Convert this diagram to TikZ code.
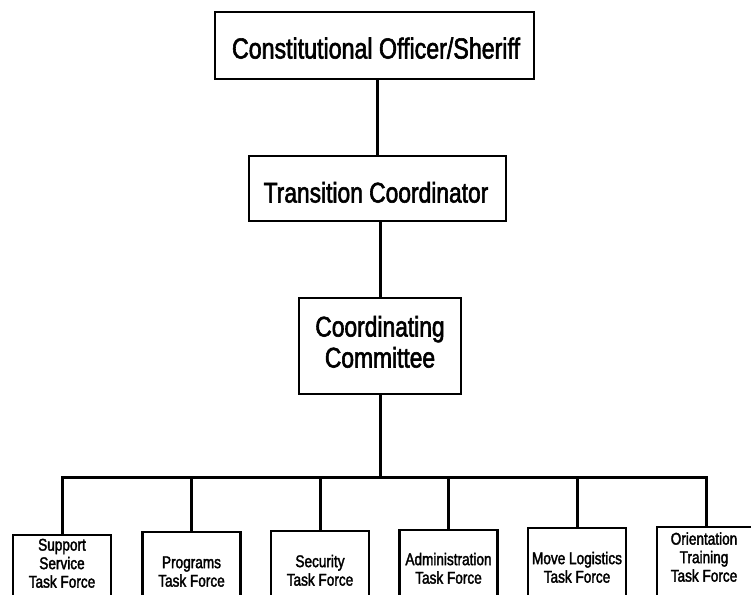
\documentclass[tikz,border=0pt]{standalone}
\usepackage{fontspec}
\setmainfont[FakeStretch=0.8,FakeBold=2]{Liberation Sans}
\begin{document}
\begin{tikzpicture}[x=1pt,y=-1pt,
  box/.style={draw=black,line width=2.4pt,rectangle,inner sep=0pt},
  conn/.style={draw=black,line width=3pt},
  bigtext/.style={inner sep=0pt,anchor=south,align=center,font=\fontsize{29}{31}\selectfont},
  midtext/.style={inner sep=0pt,anchor=south,align=center,font=\fontsize{28.5}{31}\selectfont},
  tftext/.style={inner sep=0pt,anchor=south,align=center,font=\fontsize{17}{18.5}\selectfont},
  tfbox/.style={box,anchor=north,minimum width=98pt,minimum height=95pt}]
\useasboundingbox (0,0) rectangle (751,594);
\fill[white] (0,0) rectangle (751,594);
\clip (0,0) rectangle (751,594);

% upper boxes
\node[box,minimum width=319pt,minimum height=67pt] (top) at (374.5,45.5) {};
\node[bigtext] (toptxt) at (376,59) {Constitutional Officer/Sheriff};

\node[box,minimum width=257pt,minimum height=65pt] (trans) at (377.5,188.5) {};
\node[midtext] (transtxt) at (376,203) {Transition Coordinator};

\node[box,minimum width=162pt,minimum height=96pt] (coord) at (380,346) {};
\node[midtext] (coordtxt) at (380,368) {Coordinating\\Committee};

% task force boxes
\node[tfbox] (b1) at (62,534) {};
\node[tftext] (t1) at (62,588) {Support\\Service\\Task Force};
\node[tfbox] (b2) at (191.5,531) {};
\node[tftext] (t2) at (191.5,587) {Programs\\Task Force};
\node[tfbox] (b3) at (320,530) {};
\node[tftext] (t3) at (320,586) {Security\\Task Force};
\node[tfbox] (b4) at (448.5,529) {};
\node[tftext] (t4) at (448.5,584) {Administration\\Task Force};
\node[tfbox] (b5) at (577,527) {};
\node[tftext] (t5) at (577,583) {Move Logistics\\Task Force};
\node[tfbox] (b6) at (706,526) {};
\node[tftext] (t6) at (704,582) {Orientation\\Training\\Task Force};

% connectors
\draw[conn] (trans.north) -- (trans.north |- top.south);
\draw[conn] (coord.north) -- (coord.north |- trans.south);
\coordinate (busL) at (62,477);
\coordinate (busR) at (706,477);
\draw[conn] (coord.south) -- (coord.south |- busL);
\draw[conn,line cap=rect] (busL) -- (busR);
\foreach \b in {b1,b2,b3,b4,b5,b6}{
  \draw[conn] (\b.north) -- (\b.north |- busL);
}
\end{tikzpicture}
\end{document}
